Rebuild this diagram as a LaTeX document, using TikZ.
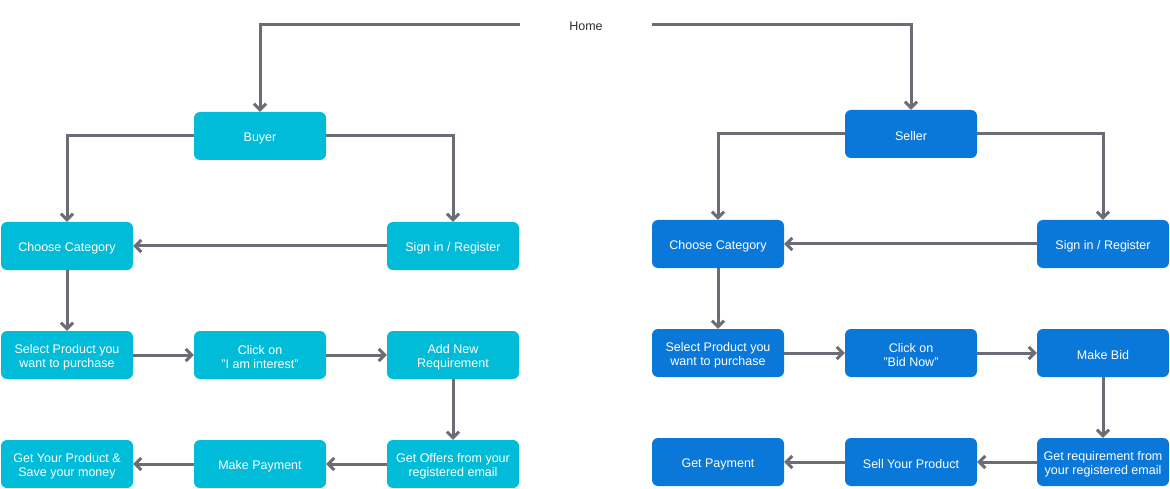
\documentclass[tikz,border=0pt]{standalone}
\usepackage{fontspec}
\setmainfont{Liberation Sans}
\usetikzlibrary{arrows.meta}
\definecolor{buyc}{HTML}{00BCD9}
\definecolor{sellc}{HTML}{0A78D9}
\definecolor{linec}{HTML}{6C6C76}
\definecolor{homec}{HTML}{2E2E36}
\begin{document}
\begin{tikzpicture}[x=1pt,y=-1pt,
  box/.style={rounded corners=6pt,minimum width=132pt,minimum height=48pt,inner sep=0pt,
    label={[yshift=-2pt,inner sep=0pt,text=white,align=center,font=\fontsize{12.5}{14}\selectfont]center:#1}},
  bbox/.style={box={#1},fill=buyc},
  sbox/.style={box={#1},fill=sellc},
  conn/.style={draw=linec,line width=3pt,-{Straight Barb[length=6pt,width=12pt,line width=3pt]}}]
\useasboundingbox (0,0) rectangle (1170,489);
\node[font=\fontsize{12.5}{15}\selectfont,text=homec] (home) at (586,26) {Home};
\coordinate (hl) at (520,25);
\coordinate (hr) at (652,25);
% Buyer
\node[bbox={Buyer}] (buyer) at (260,136) {};
\node[bbox={Choose Category}] (bcat) at (67,246) {};
\node[bbox={Sign in / Register}] (bsign) at (453,246) {};
\node[bbox={Select Product you\\want to purchase}] (bsel) at (67,355) {};
\node[bbox={Click on\\"I am interest"}] (bclick) at (260,355) {};
\node[bbox={Add New\\Requirement}] (badd) at (453,355) {};
\node[bbox={Get Your Product \&\\Save your money}] (bget) at (67,464) {};
\node[bbox={Make Payment}] (bpay) at (260,464) {};
\node[bbox={Get Offers from your\\registered email}] (boff) at (453,464) {};
% Seller
\node[sbox={Seller}] (seller) at (911,134) {};
\node[sbox={Choose Category}] (scat) at (718,244) {};
\node[sbox={Sign in / Register}] (ssign) at (1103,244) {};
\node[sbox={Select Product you\\want to purchase}] (ssel) at (718,353) {};
\node[sbox={Click on\\"Bid Now"}] (sclick) at (911,353) {};
\node[sbox={Make Bid}] (sbid) at (1103,353) {};
\node[sbox={Get Payment}] (sgpay) at (718,462) {};
\node[sbox={Sell Your Product}] (ssell) at (911,462) {};
\node[sbox={Get requirement from\\your registered email}] (sreq) at (1103,462) {};
% connectors
\draw[conn] (hl) -| (buyer.north);
\draw[conn] (hr) -| (seller.north);
\draw[conn] (buyer.west) -| (bcat.north);
\draw[conn] (buyer.east) -| (bsign.north);
\draw[conn] (bsign.west) -- (bcat.east);
\draw[conn] (bcat.south) -- (bsel.north);
\draw[conn] (bsel.east) -- (bclick.west);
\draw[conn] (bclick.east) -- (badd.west);
\draw[conn] (badd.south) -- (boff.north);
\draw[conn] (boff.west) -- (bpay.east);
\draw[conn] (bpay.west) -- (bget.east);
\draw[conn] (seller.west) -| (scat.north);
\draw[conn] (seller.east) -| (ssign.north);
\draw[conn] (ssign.west) -- (scat.east);
\draw[conn] (scat.south) -- (ssel.north);
\draw[conn] (ssel.east) -- (sclick.west);
\draw[conn] (sclick.east) -- (sbid.west);
\draw[conn] (sbid.south) -- (sreq.north);
\draw[conn] (sreq.west) -- (ssell.east);
\draw[conn] (ssell.west) -- (sgpay.east);
\end{tikzpicture}
\end{document}
